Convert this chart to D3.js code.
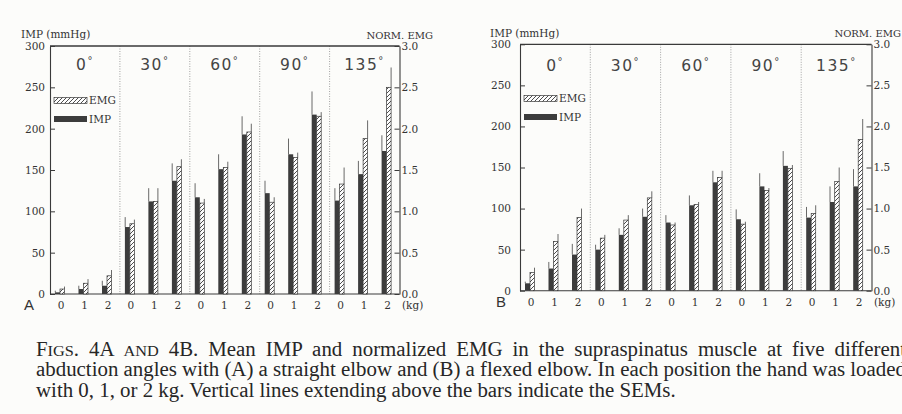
<!DOCTYPE html>
<html><head><meta charset="utf-8">
<script src="https://cdn.jsdelivr.net/npm/d3@7"></script>
<style>body{margin:0;background:#fcfcfa;} svg{display:block}</style>
</head><body><svg id="c" width="902" height="414"></svg>
<script>
// ---- data ----
const angles = ["0", "30", "60", "90", "135"];
const loads = [0, 1, 2];
const impTicks = [0, 50, 100, 150, 200, 250, 300];
const emgTicks = [0, 0.5, 1.0, 1.5, 2.0, 2.5, 3.0];
// Panel A (straight elbow): IMP mean (mmHg), IMP SEM, EMG mean (norm.), EMG SEM
const impA    = [[2, 6, 10], [81, 112, 137], [117, 151, 193], [122, 169, 217], [113, 145, 173]];
const impSemA = [[2, 4, 6], [12, 16, 21], [17, 18, 22], [15, 19, 28], [15, 16, 19]];
const emgA    = [[0.06, 0.13, 0.22], [0.85, 1.12, 1.54], [1.10, 1.53, 1.96], [1.11, 1.65, 2.15], [1.33, 1.88, 2.50]];
const emgSemA = [[0.03, 0.05, 0.07], [0.05, 0.16, 0.09], [0.05, 0.07, 0.10], [0.06, 0.06, 0.05], [0.20, 0.22, 0.24]];
// Panel B (flexed elbow)
const impB    = [[9, 27, 44], [50, 68, 90], [83, 104, 132], [87, 127, 152], [89, 108, 127]];
const impSemB = [[2, 8, 13], [6, 8, 10], [9, 12, 14], [12, 16, 18], [13, 19, 21]];
const emgB    = [[0.22, 0.60, 0.89], [0.64, 0.86, 1.13], [0.80, 1.05, 1.38], [0.81, 1.22, 1.49], [0.94, 1.33, 1.84]];
const emgSemB = [[0.06, 0.09, 0.11], [0.04, 0.06, 0.08], [0.03, 0.03, 0.08], [0.03, 0.03, 0.04], [0.10, 0.17, 0.25]];
const captionLine2 = "abduction angles with (A) a straight elbow and (B) a flexed elbow. In each position the hand was loaded";
const captionLine3 = "with 0, 1, or 2 kg. Vertical lines extending above the bars indicate the SEMs.";

// ---- drawing ----
const svg = d3.select("#c");
svg.append("rect").attr("width", 902).attr("height", 414).attr("fill", "#fcfcfa");
const defs = svg.append("defs");
const pat = defs.append("pattern").attr("id", "hatch").attr("patternUnits", "userSpaceOnUse")
  .attr("width", 4).attr("height", 4);
pat.append("rect").attr("width", 4).attr("height", 4).attr("fill", "#fdfdfd");
pat.append("path").attr("d", "M-1,1 l2,-2 M0,4 l4,-4 M3,5 l2,-2")
  .attr("stroke", "#3a3a3a").attr("stroke-width", 0.9);

const INK = "#3a3a3a";
const FONT = "DejaVu Serif";

function panel(p, imp, impSem, emg, emgSem) {
  const g = svg.append("g");
  const x = d3.scaleBand().domain(angles).range([p.x0, p.x1]);
  const xi = d3.scalePoint().domain(loads).range([10, 57]);
  const y = d3.scaleLinear().domain([0, 300]).range([p.y0, p.y1]);
  const yr = d3.scaleLinear().domain([0, 3]).range([p.y0, p.y1]);

  // group dividers
  g.selectAll("line.div").data(angles.slice(1)).join("line")
    .attr("x1", d => x(d)).attr("x2", d => x(d)).attr("y1", p.y1).attr("y2", p.y0)
    .attr("stroke", "#8a8a8a").attr("stroke-width", 0.8).attr("stroke-dasharray", "1,1.5");

  // frame top / bottom
  g.append("line").attr("x1", p.x0).attr("x2", p.x1).attr("y1", p.y1).attr("y2", p.y1)
    .attr("stroke", INK).attr("stroke-width", 1.3);
  g.append("line").attr("x1", p.x0).attr("x2", p.x1).attr("y1", p.y0).attr("y2", p.y0)
    .attr("stroke", INK).attr("stroke-width", 1.1);

  // axes
  const la = g.append("g").attr("transform", `translate(${p.x0},0)`)
    .call(d3.axisLeft(y).tickValues(impTicks).tickSize(-5).tickSizeOuter(0).tickPadding(p.leftPad).tickFormat(d3.format("d")));
  const ra = g.append("g").attr("transform", `translate(${p.x1},0)`)
    .call(d3.axisRight(yr).tickValues(emgTicks).tickSize(-5).tickSizeOuter(0).tickPadding(2).tickFormat(d3.format(".1f")));
  [la, ra].forEach(a => {
    a.select(".domain").attr("stroke", INK).attr("stroke-width", 1.1);
    a.selectAll(".tick line").attr("stroke", INK);
    a.selectAll("text").attr("font-family", FONT).attr("font-size", 10.5).attr("fill", "#333");
  });

  // data rows
  const rows = [];
  angles.forEach((a, i) => loads.forEach((l, j) => rows.push({
    a, l, imp: imp[i][j], impSem: impSem[i][j], emg: emg[i][j], emgSem: emgSem[i][j]
  })));
  const cx = d => x(d.a) + xi(d.l);
  const bw = 5;

  // IMP bars
  g.selectAll("rect.imp").data(rows).join("rect")
    .attr("x", d => cx(d) - bw).attr("width", bw)
    .attr("y", d => y(d.imp)).attr("height", d => y(0) - y(d.imp))
    .attr("fill", "#3c3c3c");
  g.selectAll("line.impsem").data(rows).join("line")
    .attr("x1", d => cx(d) - bw + 0.3).attr("x2", d => cx(d) - bw + 0.3)
    .attr("y1", d => y(d.imp)).attr("y2", d => y(d.imp + d.impSem))
    .attr("stroke", "#444").attr("stroke-width", 0.8);
  // EMG bars
  g.selectAll("rect.emg").data(rows).join("rect")
    .attr("x", d => cx(d)).attr("width", bw - 0.5)
    .attr("y", d => yr(d.emg)).attr("height", d => yr(0) - yr(d.emg))
    .attr("fill", "url(#hatch)").attr("stroke", "#3a3a3a").attr("stroke-width", 0.7);
  g.selectAll("line.emgsem").data(rows).join("line")
    .attr("x1", d => cx(d) + bw - 0.5).attr("x2", d => cx(d) + bw - 0.5)
    .attr("y1", d => yr(d.emg)).attr("y2", d => yr(d.emg + d.emgSem))
    .attr("stroke", "#444").attr("stroke-width", 0.8);

  // x labels
  g.selectAll("text.xl").data(rows).join("text")
    .attr("x", d => cx(d) + 1).attr("y", p.labelY).attr("text-anchor", "middle")
    .attr("font-family", FONT).attr("font-size", 10.5).attr("fill", "#333")
    .text(d => d.l);
  g.append("text").attr("x", p.kgX).attr("y", p.labelY).attr("font-family", FONT)
    .attr("font-size", 10.5).attr("fill", "#333").text("(kg)");

  // angle labels
  const at = g.selectAll("text.ang").data(angles).join("text")
    .attr("x", d => x(d) + x.bandwidth() / 2).attr("y", p.degY).attr("text-anchor", "middle")
    .attr("font-family", "DejaVu Sans").attr("font-size", 15.5).attr("letter-spacing", 1.5)
    .attr("fill", "#444");
  at.append("tspan").text(d => d);
  at.append("tspan").attr("font-size", 10).attr("dy", -6).text("°");

  // titles
  g.append("text").attr("x", p.titleX).attr("y", p.titleY).attr("font-family", FONT)
    .attr("font-size", 10.5).attr("fill", "#333").text("IMP (mmHg)");
  g.append("text").attr("x", p.normEnd).attr("y", p.normY).attr("text-anchor", "end")
    .attr("font-family", FONT).attr("font-size", 10).attr("fill", "#333").text("NORM. EMG");

  // legend
  g.append("rect").attr("x", p.legX).attr("y", p.legY1).attr("width", 33).attr("height", 6)
    .attr("fill", "url(#hatch)").attr("stroke", "#3a3a3a").attr("stroke-width", 0.7);
  g.append("text").attr("x", p.legX + 35).attr("y", p.legY1 + 6.5).attr("font-family", FONT)
    .attr("font-size", 10.5).attr("fill", "#333").text("EMG");
  g.append("rect").attr("x", p.legX).attr("y", p.legY2).attr("width", 33).attr("height", 6)
    .attr("fill", "#3c3c3c");
  g.append("text").attr("x", p.legX + 35).attr("y", p.legY2 + 6.5).attr("font-family", FONT)
    .attr("font-size", 10.5).attr("fill", "#333").text("IMP");

  // panel letter
  g.append("text").attr("x", p.letX).attr("y", p.letY).attr("font-family", "Liberation Sans")
    .attr("font-size", 15).attr("fill", "#333").text(p.letter);
}

panel({x0: 50, x1: 399.5, y0: 294, y1: 46, leftPad: 5, labelY: 309, kgX: 402, degY: 70,
       titleX: 21, titleY: 38, normEnd: 433, normY: 39, legX: 54, legY1: 97.5, legY2: 116,
       letX: 24, letY: 309.5, letter: "A"}, impA, impSemA, emgA, emgSemA);
panel({x0: 520, x1: 871.5, y0: 290.7, y1: 44.3, leftPad: 9, labelY: 306, kgX: 874, degY: 71,
       titleX: 490, titleY: 37, normEnd: 901, normY: 37, legX: 524, legY1: 95.5, legY2: 114,
       letX: 496, letY: 307, letter: "B"}, impB, impSemB, emgB, emgSemB);

// caption (justified lines 1 and 2, as in the printed figure legend)
const FS = 20;
const cap = svg.append("g").attr("font-family", "Liberation Serif").attr("font-size", FS).attr("fill", "#262626");
const l1 = cap.append("text").attr("x", 0).attr("y", 356);
const l1parts = [["F", FS], ["IGS", FS * 0.78], [". 4A ", FS], ["AND", FS * 0.78],
 [" 4B. Mean IMP and normalized EMG in the supraspinatus muscle at five different", FS]];
l1parts.forEach(([t, s]) => l1.append("tspan").attr("font-size", s).text(t));
const l2 = cap.append("text").attr("x", 0).attr("y", 376.5).text(captionLine2);
const l3 = cap.append("text").attr("x", 0).attr("y", 397).text(captionLine3);
const len1 = l1.node().getComputedTextLength();
const len2 = l2.node().getComputedTextLength();
const nSpaces = l1parts.map(d => d[0]).join("").split(" ").length - 1;
l1.attr("word-spacing", Math.max(0, (len2 - len1) / nSpaces));
const sc = 640 / l3.node().getComputedTextLength();
cap.attr("transform", `translate(36,0) scale(${sc},1)`);
</script></body></html>
